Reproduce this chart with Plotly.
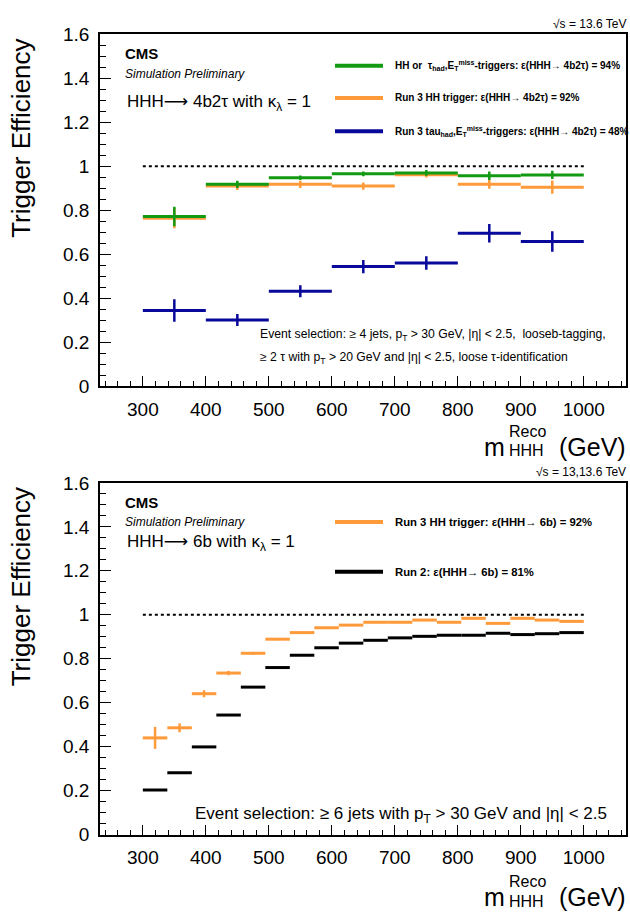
import numpy as np
import plotly.graph_objects as go

# ---------------------------------------------------------------- data
# top panel : HHH -> 4b2tau, 100 GeV bins
edges_4b2tau = [300, 400, 500, 600, 700, 800, 900, 1000]
eff_hh_or_tau = [0.772, 0.918, 0.948, 0.966, 0.970, 0.957, 0.961]
err_hh_or_tau = [0.044, 0.016, 0.010, 0.011, 0.013, 0.019, 0.019]
eff_run3_hh = [0.764, 0.910, 0.918, 0.910, 0.962, 0.918, 0.905]
err_run3_hh = [0.046, 0.018, 0.016, 0.016, 0.013, 0.020, 0.030]
eff_run3_tau = [0.344, 0.301, 0.432, 0.544, 0.560, 0.696, 0.658]
err_run3_tau = [0.051, 0.027, 0.027, 0.030, 0.031, 0.042, 0.047]

# bottom panel : HHH -> 6b, 18 bins between 300 and 1000 GeV
edges_6b = list(np.linspace(300, 1000, 19))
eff_6b_run3 = [0.440, 0.486, 0.641, 0.735, 0.825, 0.889, 0.919, 0.941, 0.953,
               0.966, 0.966, 0.976, 0.966, 0.984, 0.961, 0.984, 0.976, 0.970]
err_6b_run3 = [0.050, 0.020, 0.016, 0.010, 0.006, 0.005, 0.004, 0.004, 0.004,
               0.003, 0.003, 0.003, 0.003, 0.003, 0.003, 0.003, 0.003, 0.003]
eff_6b_run2 = [0.203, 0.281, 0.399, 0.544, 0.671, 0.760, 0.816, 0.850, 0.871,
               0.884, 0.895, 0.902, 0.907, 0.907, 0.916, 0.910, 0.914, 0.919]
err_6b_run2 = [0.0] * 18

labels_top = ["<b>HH or  τ<sub>had</sub>,E<sub>T</sub><sup>miss</sup>-triggers: ε(HHH→ 4b2τ) = 94%</b>",
              "<b>Run 3 HH trigger: ε(HHH→ 4b2τ) = 92%</b>",
              "<b>Run 3 tau<sub>had</sub>,E<sub>T</sub><sup>miss</sup>-triggers: ε(HHH→ 4b2τ) = 48%</b>"]
labels_bot = ["<b>Run 3 HH trigger: ε(HHH→ 6b) = 92%</b>",
              "<b>Run 2: ε(HHH→ 6b) = 81%</b>"]

green = "#129a12"
orange = "#ff9a3a"
navy = "#08089a"
black = "#000000"

FONT = "Liberation Sans, Arial, Helvetica, sans-serif"
ARROW = "<span style='font-family:DejaVu Sans'>⟶</span>"
W, H = 630, 915

def px(x):
    return x / W

def py(y):
    return 1 - y / H

#%% figure
fig = go.Figure()

def add_hist(edges, vals, errs, color, xa, ya):
    edges = np.asarray(edges, dtype=float)
    centers = 0.5 * (edges[1:] + edges[:-1])
    halfw = 0.5 * (edges[1:] - edges[:-1])
    fig.add_trace(go.Scatter(x=centers, y=vals, mode="markers", xaxis=xa, yaxis=ya,
                             marker=dict(size=0.1, color=color), showlegend=False,
                             error_x=dict(type="data", array=halfw, color=color, thickness=3, width=0),
                             error_y=dict(type="data", array=errs, color=color, thickness=2.5, width=0)))

def add_unity(xa, ya):
    fig.add_trace(go.Scatter(x=[300, 1000], y=[1, 1], mode="lines", xaxis=xa, yaxis=ya,
                             line=dict(color="black", width=2, dash="dot"), showlegend=False))

# top
add_unity("x", "y")
add_hist(edges_4b2tau, eff_run3_hh, err_run3_hh, orange, "x", "y")
add_hist(edges_4b2tau, eff_hh_or_tau, err_hh_or_tau, green, "x", "y")
add_hist(edges_4b2tau, eff_run3_tau, err_run3_tau, navy, "x", "y")

# bottom
add_unity("x2", "y2")
add_hist(edges_6b, eff_6b_run2, err_6b_run2, black, "x2", "y2")
add_hist(edges_6b, eff_6b_run3, err_6b_run3, orange, "x2", "y2")

xax = dict(range=[232, 1067], domain=[px(100), px(626)], showgrid=False, zeroline=False,
           showline=True, linecolor="black", linewidth=1.5, mirror=True,
           ticks="inside", ticklen=10, tickwidth=1, tickcolor="black", dtick=100, tick0=300,
           minor=dict(ticks="inside", ticklen=5, dtick=20, tickcolor="black", showgrid=False),
           tickfont=dict(family=FONT, size=19, color="black"), ticklabelstandoff=5)
yax = dict(range=[0, 1.6], showgrid=False, zeroline=False,
           showline=True, linecolor="black", linewidth=1.5, mirror=True,
           ticks="inside", ticklen=11, tickwidth=1, tickcolor="black", dtick=0.2, tick0=0,
           minor=dict(ticks="inside", ticklen=6, dtick=0.05, tickcolor="black", showgrid=False),
           tickfont=dict(family=FONT, size=19, color="black"), ticklabelstandoff=5)

fig.update_layout(
    width=W, height=H, margin=dict(l=0, r=0, t=0, b=0),
    paper_bgcolor="white", plot_bgcolor="white", showlegend=False,
    xaxis=dict(xax, anchor="y"),
    yaxis=dict(yax, domain=[py(385), py(25)], anchor="x"),
    xaxis2=dict(xax, anchor="y2"),
    yaxis2=dict(yax, domain=[py(844), py(484)], anchor="x2"),
)

#%% texts
ann = []
def txt(x, y, s, size, xanchor="left", yanchor="middle", angle=0):
    ann.append(dict(x=px(x), y=py(y), xref="paper", yref="paper", text=s, showarrow=False,
                    xanchor=xanchor, yanchor=yanchor, textangle=angle,
                    font=dict(family=FONT, size=size, color="black")))

for top, bottom, sqrt_s in [(25, 385, "√s = 13.6 TeV"), (484, 844, "√s = 13,13.6 TeV")]:
    txt(628, top - 11, sqrt_s, 12, xanchor="right")
    txt(123, top + 20, "<b>CMS</b>", 15)
    txt(123, top + 40, "<i>Simulation Preliminary</i>", 12)
    txt(21, top + 3, "Trigger Efficiency", 26, xanchor="center", yanchor="top", angle=-90)
    # x title, built piece by piece to stack sup/sub
    off = 62 if top == 25 else 64
    yt = bottom + off
    txt(628, yt, "(GeV)", 25, xanchor="right")
    txt(507, yt, "m", 25, xanchor="right")
    txt(507, yt - 16, "Reco", 16)
    txt(507, yt + 4, "HHH", 16)

txt(125, 95, "HHH" + ARROW + " 4b2τ with κ<sub>λ</sub> = 1", 17)
txt(125, 545, "HHH" + ARROW + " 6b with κ<sub>λ</sub> = 1", 17)

txt(258, 333, "Event selection: ≥ 4 jets, p<sub>T</sub> > 30 GeV, |η| < 2.5,  looseb-tagging,", 12.2)
txt(258, 356, "≥ 2 τ with p<sub>T</sub> > 20 GeV and |η| < 2.5, loose τ-identification", 12.2)
txt(193, 824, "Event selection: ≥ 6 jets with p<sub>T</sub> > 30 GeV and |η| < 2.5", 17)

# legends
shapes = []
for lab, col, yy in zip(labels_top, [green, orange, navy], [57, 90, 124]):
    shapes.append(dict(type="line", xref="paper", yref="paper", x0=px(335), x1=px(383),
                       y0=py(yy), y1=py(yy), line=dict(color=col, width=4)))
    txt(393, yy, lab, 10)
for lab, col, yy in zip(labels_bot, [orange, black], [524, 575]):
    shapes.append(dict(type="line", xref="paper", yref="paper", x0=px(335), x1=px(383),
                       y0=py(yy), y1=py(yy), line=dict(color=col, width=4)))
    txt(393, yy, lab, 11.3)

fig.update_layout(annotations=ann, shapes=shapes)

fig.write_html("out.html", config={"displayModeBar": False},
               post_script="document.body.style.margin='0';document.body.style.overflow='hidden';")
